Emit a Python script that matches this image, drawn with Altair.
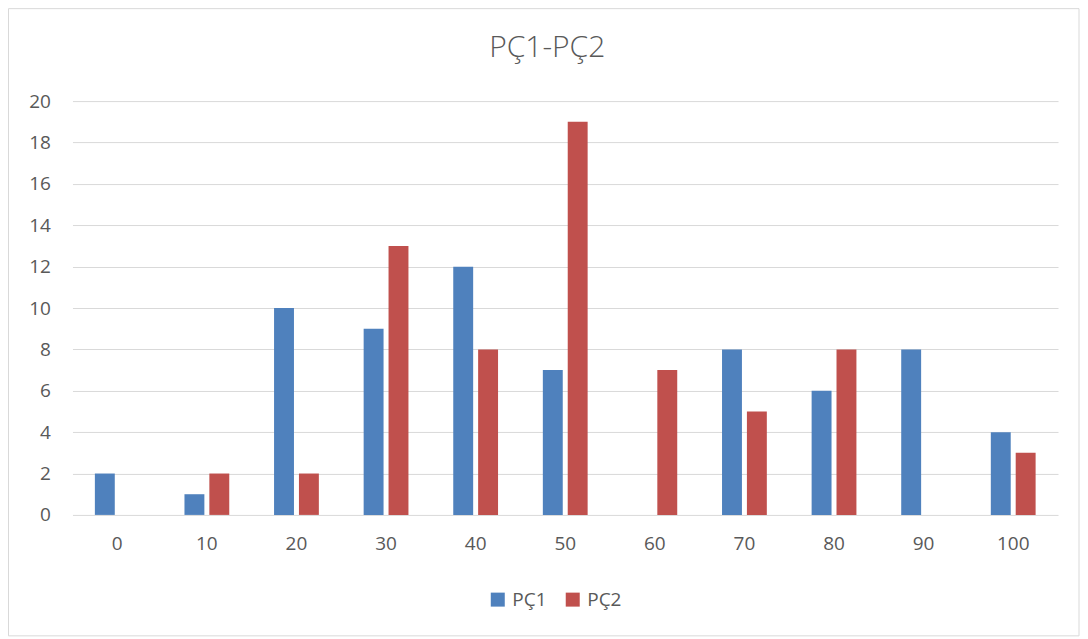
import altair as alt
import pandas as pd

title_text = "PÇ1-PÇ2"
categories = ["0", "10", "20", "30", "40", "50", "60", "70", "80", "90", "100"]
pc1 = [2, 1, 10, 9, 12, 7, 0, 8, 6, 8, 4]
pc2 = [0, 2, 2, 13, 8, 19, 7, 5, 8, 0, 3]
series = ["PÇ1", "PÇ2"]
colors = ["#4F81BD", "#C0504D"]
y_ticks = [0, 2, 4, 6, 8, 10, 12, 14, 16, 18, 20]

rows = []
for c, a, b in zip(categories, pc1, pc2):
    rows.append({"cat": c, "series": series[0], "value": a})
    rows.append({"cat": c, "series": series[1], "value": b})
df = pd.DataFrame(rows)

FONT = "Open Sans"
TXT = "#595959"

bars = alt.Chart(df).mark_bar().encode(
    x=alt.X(
        "cat:N",
        sort=categories,
        scale=alt.Scale(paddingInner=0.5, paddingOuter=0.25),
        axis=alt.Axis(
            title=None, labelAngle=0, domain=False, ticks=False, grid=False,
            labelPadding=20, labelFontSize=19, labelColor=TXT, labelFont=FONT,
        ),
    ),
    xOffset=alt.XOffset("series:N", sort=series,
                        scale=alt.Scale(paddingInner=0.2, paddingOuter=0)),
    y=alt.Y(
        "value:Q",
        scale=alt.Scale(domain=[0, 20], nice=False),
        axis=alt.Axis(
            title=None, values=y_ticks, domain=False, ticks=False,
            gridColor="#d9d9d9", gridWidth=1, labelPadding=22,
            labelFontSize=19, labelColor=TXT, labelFont=FONT,
        ),
    ),
    color=alt.Color(
        "series:N",
        sort=series,
        scale=alt.Scale(domain=series, range=colors),
        legend=alt.Legend(
            title=None, orient="none", legendX=416, legendY=489,
            direction="horizontal", symbolType="square", symbolSize=196,
            symbolStrokeWidth=0, labelFontSize=19, labelColor=TXT,
            labelFont=FONT, columnPadding=16, labelOffset=5,
        ),
    ),
)

single = pd.DataFrame({"t": [title_text]})

frame = alt.Chart(single).mark_rect(
    fillOpacity=0, stroke="#d9d9d9", strokeWidth=1
).encode(
    x=alt.value(-64), x2=alt.value(1007),
    y=alt.value(-92.5), y2=alt.value(535),
)

title = alt.Chart(single).mark_text(
    font=FONT, fontSize=30, fontWeight=300, color=TXT,
    align="center", baseline="alphabetic"
).encode(
    text="t:N", x=alt.value(475), y=alt.value(-44),
)

chart = alt.layer(frame, bars, title).properties(
    width=986,
    height=414,
    padding={"left": 64.5, "top": 93, "right": 22, "bottom": 123},
    autosize=alt.AutoSizeParams(type="none"),
).configure_view(strokeOpacity=0)

chart.save("out.html", embed_options={"renderer": "svg", "actions": False})
